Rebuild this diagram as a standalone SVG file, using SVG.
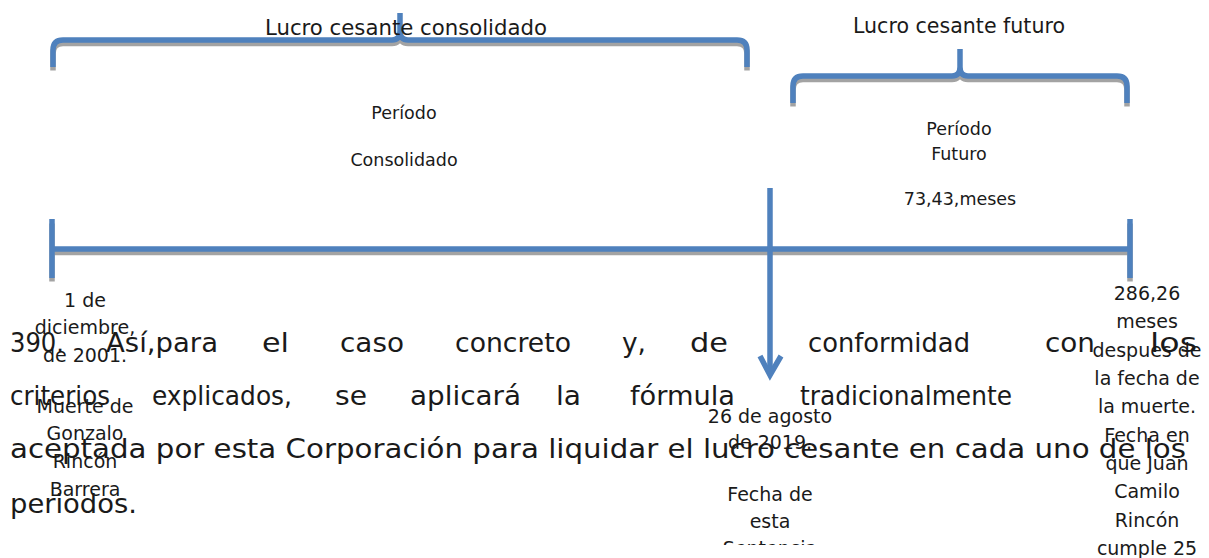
<svg xmlns="http://www.w3.org/2000/svg" width="1209" height="558" viewBox="0 0 1209 558">
  <defs>
    <style>
      text { font-family: "DejaVu Sans", "Liberation Sans", sans-serif; fill: #1a1a1a; }
      .hdr { font-size: 21px; }
      .per { font-size: 17.5px; text-anchor: middle; }
      .lbl { font-size: 19px; text-anchor: middle; }
      .par { font-size: 27px; }
      .blue { fill: none; stroke: #4F81BD; stroke-width: 5.5; stroke-linecap: butt; stroke-linejoin: round; }
      .shadow { fill: none; stroke: #A3A3A3; stroke-width: 5.5; stroke-linecap: butt; stroke-linejoin: round; }
    </style>
    <clipPath id="clipMid">
      <rect x="680" y="390" width="180" height="155"/>
    </clipPath>
  </defs>

  <g id="connectors">
    <g id="brace-consolidado">
      <path class="shadow" transform="translate(0,3.5)" d="M53,67 V50 Q53,40 63,40 H392 Q400,40 400,31 M400,31 Q400,40 408,40 H737 Q747,40 747,50 V67"/>
      <path class="blue" d="M53,67 V50 Q53,40 63,40 H392 Q400,40 400,31 V13 M400,31 Q400,40 408,40 H737 Q747,40 747,50 V67"/>
    </g>
    <g id="brace-futuro">
      <path class="shadow" transform="translate(0,3.5)" d="M793,103 V86 Q793,76 803,76 H952 Q960,76 960,67 M960,67 Q960,76 968,76 H1117 Q1127,76 1127,86 V103"/>
      <path class="blue" d="M793,103 V86 Q793,76 803,76 H952 Q960,76 960,67 V49 M960,67 Q960,76 968,76 H1117 Q1127,76 1127,86 V103"/>
    </g>
    <g id="timeline">
      <path class="shadow" transform="translate(0,3.5)" d="M54,249 H1128 M52,220 V278 M1130,220 V278"/>
      <path class="blue" d="M54,249 H1128 M52,219 V278 M1130,219 V278"/>
    </g>
    <g id="arrow-sentencia">
      <path class="blue" d="M770,188 V374"/>
      <path class="blue" style="stroke-linejoin:miter" d="M760,356 L770,375 L781,356"/>
    </g>
  </g>

  <g id="header-consolidado">
    <text class="hdr" x="265" y="35" textLength="282" lengthAdjust="spacingAndGlyphs">Lucro cesante consolidado</text>
  </g>
  <g id="header-futuro">
    <text class="hdr" x="853" y="33" textLength="212" lengthAdjust="spacingAndGlyphs">Lucro cesante futuro</text>
  </g>

  <g id="periodo-consolidado">
    <text class="per" x="404" y="119">Período</text>
    <text class="per" x="404" y="166">Consolidado</text>
  </g>
  <g id="periodo-futuro">
    <text class="per" x="959" y="135">Período</text>
    <text class="per" x="959" y="160">Futuro</text>
    <text class="per" x="960" y="205">73,43,meses</text>
  </g>

  <g id="paragraph">
    <text class="par" x="10" y="352" textLength="54" lengthAdjust="spacingAndGlyphs">390.</text>
    <text class="par" x="106" y="352" textLength="112" lengthAdjust="spacingAndGlyphs">Así,para</text>
    <text class="par" x="262" y="352" textLength="27" lengthAdjust="spacingAndGlyphs">el</text>
    <text class="par" x="340" y="352" textLength="64" lengthAdjust="spacingAndGlyphs">caso</text>
    <text class="par" x="455" y="352" textLength="116" lengthAdjust="spacingAndGlyphs">concreto</text>
    <text class="par" x="622" y="352" textLength="24" lengthAdjust="spacingAndGlyphs">y,</text>
    <text class="par" x="690" y="352" textLength="38" lengthAdjust="spacingAndGlyphs">de</text>
    <text class="par" x="808" y="352" textLength="162" lengthAdjust="spacingAndGlyphs">conformidad</text>
    <text class="par" x="1045" y="352" textLength="50" lengthAdjust="spacingAndGlyphs">con</text>
    <text class="par" x="1150" y="352" textLength="47" lengthAdjust="spacingAndGlyphs">los</text>

    <text class="par" x="10" y="405" textLength="100" lengthAdjust="spacingAndGlyphs">criterios</text>
    <text class="par" x="152" y="405" textLength="140" lengthAdjust="spacingAndGlyphs">explicados,</text>
    <text class="par" x="335" y="405" textLength="32" lengthAdjust="spacingAndGlyphs">se</text>
    <text class="par" x="410" y="405" textLength="111" lengthAdjust="spacingAndGlyphs">aplicará</text>
    <text class="par" x="556" y="405" textLength="25" lengthAdjust="spacingAndGlyphs">la</text>
    <text class="par" x="630" y="405" textLength="105" lengthAdjust="spacingAndGlyphs">fórmula</text>
    <text class="par" x="800" y="405" textLength="212" lengthAdjust="spacingAndGlyphs">tradicionalmente</text>

    <text class="par" x="10" y="458" textLength="1176" lengthAdjust="spacingAndGlyphs">aceptada por esta Corporación para liquidar el lucro cesante en cada uno de los</text>
    <text class="par" x="10" y="513" textLength="127" lengthAdjust="spacingAndGlyphs">periodos.</text>
  </g>

  <g id="label-inicio">
    <text class="lbl" x="85" y="307">1 de</text>
    <text class="lbl" x="85" y="334">diciembre,</text>
    <text class="lbl" x="85" y="362">de 2001.</text>
    <text class="lbl" x="85" y="413">Muerte de</text>
    <text class="lbl" x="85" y="440">Gonzalo</text>
    <text class="lbl" x="85" y="468">Rincón</text>
    <text class="lbl" x="85" y="496">Barrera</text>
  </g>

  <g id="label-sentencia" clip-path="url(#clipMid)">
    <text class="lbl" x="770" y="423">26 de agosto</text>
    <text class="lbl" x="770" y="449">de 2019.</text>
    <text class="lbl" x="770" y="501">Fecha de</text>
    <text class="lbl" x="770" y="528">esta</text>
    <text class="lbl" x="770" y="555">Sentencia</text>
  </g>

  <g id="label-fin">
    <text class="lbl" x="1147" y="300">286,26</text>
    <text class="lbl" x="1147" y="328">meses</text>
    <text class="lbl" x="1147" y="357">despues de</text>
    <text class="lbl" x="1147" y="385">la fecha de</text>
    <text class="lbl" x="1147" y="413">la muerte.</text>
    <text class="lbl" x="1147" y="442">Fecha en</text>
    <text class="lbl" x="1147" y="470">que Juan</text>
    <text class="lbl" x="1147" y="498">Camilo</text>
    <text class="lbl" x="1147" y="527">Rincón</text>
    <text class="lbl" x="1147" y="555">cumple 25</text>
  </g>
</svg>
